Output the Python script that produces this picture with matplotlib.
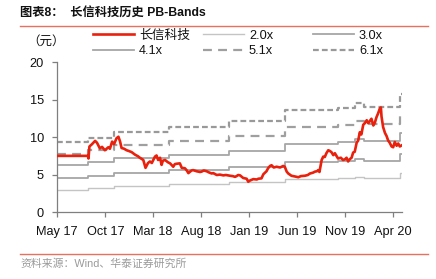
import matplotlib
matplotlib.use("Agg")
import matplotlib.pyplot as plt
import matplotlib.dates as mdates
import numpy as np
import pandas as pd

plt.rcParams["font.family"] = ["Liberation Sans", "Noto Sans CJK SC", "DejaVu Sans"]

# 长信科技 close price (元)
price_dates = [
    "2017-05-01", "2017-08-06", "2017-08-08", "2017-08-11", "2017-08-19", "2017-08-29",
    "2017-09-04", "2017-09-13", "2017-09-20", "2017-09-29", "2017-10-10", "2017-10-15",
    "2017-10-22", "2017-10-28", "2017-11-05", "2017-11-11", "2017-11-16", "2017-11-21",
    "2017-11-29", "2017-12-07", "2017-12-14", "2017-12-23", "2018-01-03", "2018-01-12",
    "2018-01-18", "2018-01-29", "2018-02-05", "2018-02-13", "2018-02-19", "2018-02-25",
    "2018-03-07", "2018-03-12", "2018-03-17", "2018-03-23", "2018-03-28", "2018-04-01",
    "2018-04-08", "2018-04-17", "2018-04-24", "2018-05-04", "2018-05-09", "2018-05-15",
    "2018-05-25", "2018-05-31", "2018-06-10", "2018-06-16", "2018-06-21", "2018-07-01",
    "2018-07-06", "2018-07-17", "2018-07-28", "2018-08-02", "2018-08-09", "2018-08-18",
    "2018-08-25", "2018-09-03", "2018-09-08", "2018-09-19", "2018-09-29", "2018-10-10",
    "2018-10-18", "2018-10-31", "2018-11-09", "2018-11-16", "2018-11-21", "2018-11-26",
    "2018-12-02", "2018-12-12", "2018-12-23", "2018-12-28", "2019-01-02", "2019-01-13",
    "2019-01-24", "2019-01-29", "2019-02-08", "2019-02-14", "2019-02-24", "2019-03-01",
    "2019-03-07", "2019-03-12", "2019-03-19", "2019-03-28", "2019-04-08", "2019-04-18",
    "2019-04-23", "2019-04-29", "2019-05-04", "2019-05-14", "2019-05-20", "2019-05-31",
    "2019-06-05", "2019-06-13", "2019-06-26", "2019-07-05", "2019-07-12", "2019-07-21",
    "2019-07-28", "2019-08-03", "2019-08-07", "2019-08-11", "2019-08-18", "2019-08-23",
    "2019-08-28", "2019-09-02", "2019-09-08", "2019-09-13", "2019-09-18", "2019-09-24",
    "2019-09-29", "2019-10-09", "2019-10-18", "2019-10-25", "2019-10-31", "2019-11-05",
    "2019-11-10", "2019-11-15", "2019-11-21", "2019-11-26", "2019-12-01", "2019-12-07",
    "2019-12-12", "2019-12-17", "2019-12-22", "2019-12-28", "2020-01-02", "2020-01-08",
    "2020-01-13", "2020-01-18", "2020-01-23", "2020-01-29", "2020-02-03", "2020-02-08",
    "2020-02-13", "2020-02-19", "2020-02-22", "2020-02-24", "2020-02-29", "2020-03-06",
    "2020-03-11", "2020-03-16", "2020-03-21", "2020-03-27", "2020-04-01", "2020-04-06",
    "2020-04-12", "2020-04-17", "2020-04-22", "2020-04-28",
]
price = [
    7.55, 7.55, 7.2, 8.8, 9.1, 9.55,
    9.3, 8.55, 8.75, 8.3, 8.7, 8.5,
    9.45, 9.1, 9.9, 10.1, 9.5, 8.6,
    8.5, 8.3, 8.2, 8.05, 7.7, 7.5,
    7.3, 7.0, 5.95, 6.6, 6.8, 6.6,
    7.45, 7.6, 7.0, 7.3, 6.35, 6.9,
    7.0, 6.7, 6.55, 6.1, 6.45, 6.5,
    6.55, 5.95, 5.9, 5.6, 5.25, 5.6,
    5.65, 5.5, 5.4, 5.45, 5.6, 5.5,
    5.35, 5.2, 5.25, 5.0, 5.05, 4.95,
    5.0, 4.9, 4.85, 4.75, 4.85, 5.0,
    4.95, 4.6, 4.5, 4.1, 4.25, 4.45,
    4.4, 4.5, 4.55, 5.1, 5.5, 5.9,
    6.2, 6.3, 6.0, 6.1, 6.0, 6.2,
    6.1, 5.45, 5.2, 4.9, 4.85, 4.75,
    4.7, 4.85, 4.9, 5.0, 5.2, 5.3,
    5.45, 5.5, 5.65, 5.4, 7.0, 7.45,
    7.4, 7.9, 8.3, 8.2, 8.05, 7.65,
    7.9, 7.2, 7.3, 7.0, 7.1, 7.3,
    6.8, 7.1, 7.3, 8.0, 8.1, 9.3,
    9.6, 10.7, 10.4, 11.7, 11.9, 12.3,
    11.9, 12.2, 12.5, 11.6, 12.0, 12.7,
    13.2, 13.9, 14.0, 12.8, 11.4, 10.6,
    10.2, 9.6, 9.3, 8.8, 8.7, 9.4,
    8.9, 9.2, 8.8, 8.95,
]

# book value per share used for the bands
bvps_dates = [
    "2017-05-01", "2017-08-07", "2017-10-29", "2018-04-21", "2018-10-28",
    "2019-04-23", "2019-10-08", "2019-12-01", "2019-12-29", "2020-04-22", "2020-04-28",
]
bvps = [1.53, 1.63, 1.77, 1.87, 2.01, 2.23, 2.28, 2.39, 2.31, 2.60, 2.60]

multiples = [2.0, 3.0, 4.1, 5.1, 6.1]
band_labels = ["2.0x", "3.0x", "4.1x", "5.1x", "6.1x"]
band_colors = ["#c4c4c4", "#a6a6a6", "#a6a6a6", "#9f9f9f", "#999999"]
band_widths = [1.0, 1.3, 1.3, 1.6, 1.6]
band_dashes = [None, None, None, (4, 2.8), (2.6, 1.4)]

tick_dates = ["2017-05-01", "2017-10-01", "2018-03-01", "2018-08-01",
              "2019-01-01", "2019-06-01", "2019-11-01", "2020-04-01"]
tick_labels = ["May 17", "Oct 17", "Mar 18", "Aug 18", "Jan 19", "Jun 19", "Nov 19", "Apr 20"]

price_x = pd.to_datetime(price_dates)
bvps_x = pd.to_datetime(bvps_dates)
bvps_arr = np.array(bvps)

fig = plt.figure(figsize=(4.36, 2.79), dpi=100)
ax = fig.add_axes([0.1314, 0.2384, 0.9213 - 0.1314, 0.776 - 0.2384])

lines = {}
for m, lab, c, w, d in zip(multiples, band_labels, band_colors, band_widths, band_dashes):
    (ln,) = ax.step(bvps_x, m * bvps_arr, where="post", color=c, lw=w, label=lab)
    if d is not None:
        ln.set_dashes(d)
    lines[lab] = ln

(red,) = ax.plot(price_x, price, color="#e8200c", lw=1.9, label="长信科技", zorder=5)

ax.set_ylim(0, 20)
ax.set_yticks([0, 5, 10, 15, 20])
ax.set_xlim(pd.Timestamp("2017-05-01"), pd.Timestamp("2020-04-28"))
ax.set_xticks(pd.to_datetime(tick_dates))
ax.set_xticklabels(tick_labels)

for s in ["top", "right"]:
    ax.spines[s].set_visible(False)
for s in ["left", "bottom"]:
    ax.spines[s].set_color("#7f7f7f")
    ax.spines[s].set_linewidth(0.9)
ax.tick_params(axis="both", direction="out", length=3.5, width=0.9, color="#7f7f7f",
               labelsize=9.2, labelcolor="#111111")
ax.tick_params(axis="y", pad=6)
ax.tick_params(axis="x", pad=6)

# legend: three columns of two rows
cols = [[red, lines["4.1x"]], [lines["2.0x"], lines["5.1x"]], [lines["3.0x"], lines["6.1x"]]]
col_x = [93 / 436, 203 / 436, 313 / 436]
for hs, cx in zip(cols, col_x):
    leg = fig.legend(handles=hs, loc="upper left", bbox_to_anchor=(cx, 0.893),
                     frameon=False, fontsize=9.2, handlelength=3.2, handletextpad=0.4,
                     borderpad=0, borderaxespad=0, labelspacing=0.25)
    for t in leg.get_texts():
        t.set_color("#111111")

fig.text(46 / 436, 1 - 42 / 279, "（元）", fontsize=9, ha="center", va="center", color="#111111")

fig.text(20 / 436, 1 - 14 / 279, "图表8：  长信科技历史 PB-Bands", fontsize=8.8,
         fontweight="bold", ha="left", va="center", color="#111111")
fig.add_artist(plt.Line2D([20 / 436, 428 / 436], [1 - 25.5 / 279] * 2, color="#e9705e", lw=1.0))
fig.add_artist(plt.Line2D([20 / 436, 428 / 436], [1 - 253.5 / 279] * 2, color="#e9705e", lw=1.0))
fig.text(20 / 436, 1 - 264 / 279, "资料来源：Wind、华泰证券研究所", fontsize=7.8,
         ha="left", va="center", color="#9a9a9a")

fig.savefig("out.png", dpi=100)
